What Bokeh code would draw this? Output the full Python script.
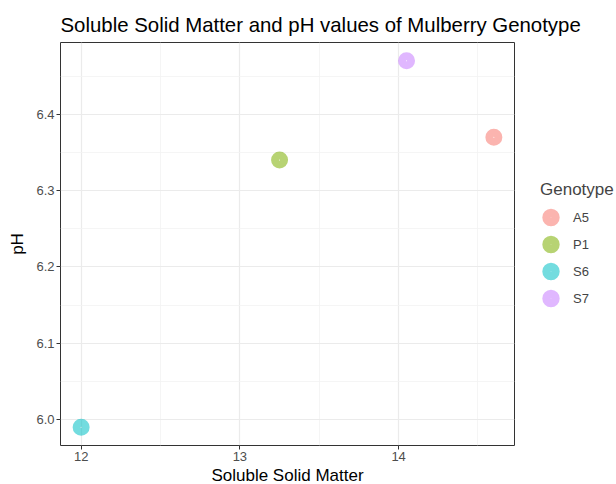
from bokeh.plotting import figure
from bokeh.models import ColumnDataSource, Range1d, FixedTicker, PrintfTickFormatter, Legend, LegendItem
from bokeh.embed import file_html
from bokeh.resources import INLINE

genotypes = ["A5", "P1", "S6", "S7"]
ssm = [14.6, 13.25, 12.0, 14.05]
ph = [6.37, 6.34, 5.99, 6.47]
colors = ["#F8766D", "#7CAE00", "#00BFC4", "#C77CFF"]

x_ticks = [12, 13, 14]
x_minor = [12.5, 13.5, 14.5]
y_ticks = [6.0, 6.1, 6.2, 6.3, 6.4]
y_minor = [6.05, 6.15, 6.25, 6.35, 6.45]

FONT = "Liberation Sans"

xspan = max(ssm) - min(ssm)
yspan = max(ph) - min(ph)

p = figure(frame_width=454, frame_height=403, output_backend="svg", toolbar_location=None,
           x_range=Range1d(min(ssm) - 0.05 * xspan, max(ssm) + 0.05 * xspan),
           y_range=Range1d(min(ph) - 0.05 * yspan, max(ph) + 0.05 * yspan),
           min_border_left=60, min_border_right=102, min_border_top=42, min_border_bottom=39,
           title="Soluble Solid Matter and pH values of Mulberry Genotype")

p.title.text_font = FONT
p.title.text_font_size = "20.4px"
p.title.text_font_style = "normal"
p.title.text_color = "#000000"
p.title.offset = 0
p.title.standoff = 14

p.outline_line_color = "#333333"
p.outline_line_width = 1
p.background_fill_color = "white"
p.border_fill_color = "white"

p.xaxis.ticker = FixedTicker(ticks=x_ticks, minor_ticks=x_minor)
p.yaxis.ticker = FixedTicker(ticks=y_ticks, minor_ticks=y_minor)
p.yaxis.formatter = PrintfTickFormatter(format="%.1f")

for ax in (p.xaxis, p.yaxis):
    ax.axis_line_color = None
    ax.major_tick_line_color = "#333333"
    ax.major_tick_out = 4
    ax.major_tick_in = 0
    ax.minor_tick_line_color = None
    ax.major_label_text_font = FONT
    ax.major_label_text_font_size = "13px"
    ax.major_label_text_color = "#4D4D4D"
    ax.axis_label_text_font = FONT
    ax.axis_label_text_font_size = "17px"
    ax.axis_label_text_font_style = "normal"
    ax.axis_label_text_color = "#000000"

p.xaxis.axis_label = "Soluble Solid Matter"
p.yaxis.axis_label = "pH"
p.xaxis.major_label_standoff = 2
p.yaxis.major_label_standoff = 2
p.xaxis.axis_label_standoff = 2
p.yaxis.axis_label_standoff = 6

p.grid.grid_line_color = "#EBEBEB"
p.grid.grid_line_width = 1.2
p.grid.minor_grid_line_color = "#F2F2F2"
p.grid.minor_grid_line_width = 0.8

items = []
for i, g in enumerate(genotypes):
    s = ColumnDataSource(dict(x=[ssm[i]], y=[ph[i]]))
    # solid disc drawn as a small marker with a thick stroke, so the legend key matches the point
    r = p.scatter("x", "y", source=s, size=8, fill_color=None, line_color=colors[i],
                  line_alpha=0.55, line_width=9)
    items.append(LegendItem(label=g, renderers=[r]))

legend = Legend(items=items, location="left", title="Genotype")
legend.title_text_font = FONT
legend.title_text_font_size = "17px"
legend.title_text_font_style = "normal"
legend.title_standoff = 7
legend.label_text_font = FONT
legend.label_text_font_size = "13px"
legend.glyph_width = 21
legend.glyph_height = 21
legend.spacing = 6
legend.label_standoff = 12
legend.border_line_color = None
legend.background_fill_color = None
legend.padding = 0
legend.margin = 26
p.add_layout(legend, "right")

open("out.html", "w").write(file_html(p, INLINE))
